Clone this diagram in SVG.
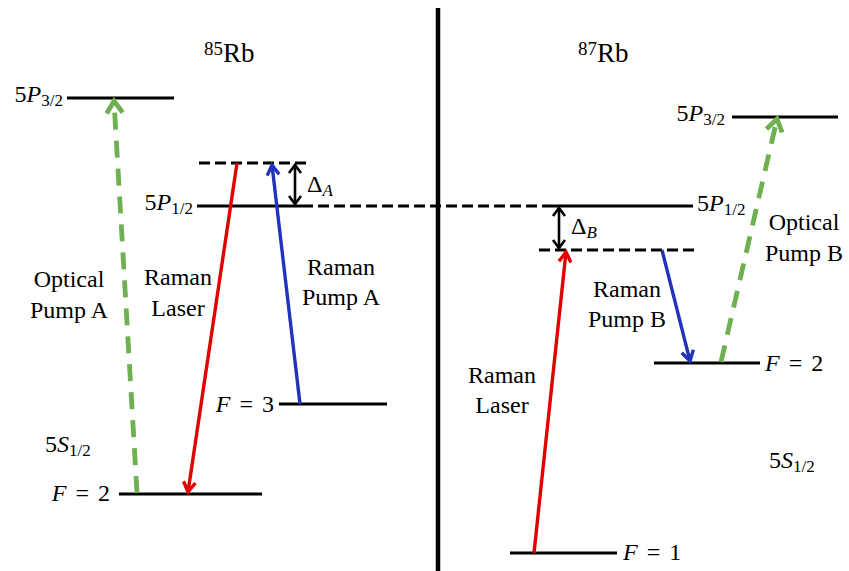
<svg xmlns="http://www.w3.org/2000/svg" width="849" height="571" viewBox="0 0 849 571">
<style>
.lv{stroke:#000;stroke-width:3.2;fill:none}
.vd{stroke:#000;stroke-width:3.2;fill:none;stroke-dasharray:11 5}
.m{font-family:"Liberation Serif","Times New Roman",serif;font-size:24px;fill:#000}
.i{font-style:italic}
.sub{font-size:17px}
.lb{font-family:"Liberation Serif","Times New Roman",serif;font-size:24px;fill:#000;text-anchor:middle}
.red{stroke:#e00000;stroke-width:3.4;fill:none}
.blue{stroke:#2233bb;stroke-width:3.4;fill:none}
.green{stroke:#6fb052;stroke-width:4.8;fill:none;stroke-dasharray:17 11}
.dl{stroke:#000;stroke-width:2.6;fill:none}
</style>
<defs>
<marker id="aR" markerUnits="userSpaceOnUse" viewBox="-12 -8 14 16" markerWidth="14" markerHeight="16" refX="0" refY="0" orient="auto" overflow="visible"><path d="M-10,-6 L0,0 L-10,6" fill="none" stroke="#e00000" stroke-width="3.4"/></marker>
<marker id="aB" markerUnits="userSpaceOnUse" viewBox="-12 -8 14 16" markerWidth="14" markerHeight="16" refX="0" refY="0" orient="auto" overflow="visible"><path d="M-10,-6 L0,0 L-10,6" fill="none" stroke="#2233bb" stroke-width="3.4"/></marker>
<marker id="aG" markerUnits="userSpaceOnUse" viewBox="-14 -10 16 20" markerWidth="16" markerHeight="20" refX="0" refY="0" orient="auto" overflow="visible"><path d="M-12,-8 L0,0 L-12,8" fill="none" stroke="#6fb052" stroke-width="4.8"/></marker>
<marker id="aK" markerUnits="userSpaceOnUse" viewBox="-10 -8 12 16" markerWidth="12" markerHeight="16" refX="0" refY="0" orient="auto-start-reverse" overflow="visible"><path d="M-8,-6 L0,0 L-8,6" fill="none" stroke="#000" stroke-width="2.6"/></marker>
</defs>
<rect width="849" height="571" fill="#fff"/>

<g id="divider"><line x1="438" y1="8" x2="438" y2="571" stroke="#000" stroke-width="4.5"/></g>

<g id="title85"><text x="204" y="62" font-family="Liberation Serif, Times New Roman, serif" font-size="27"><tspan font-size="19" dy="-7">85</tspan><tspan dy="7">Rb</tspan></text></g>
<g id="title87"><text x="578" y="62" font-family="Liberation Serif, Times New Roman, serif" font-size="27"><tspan font-size="19" dy="-7">87</tspan><tspan dy="7">Rb</tspan></text></g>

<!-- 85Rb levels -->
<g id="A_5P32"><line class="lv" x1="67" y1="98" x2="174" y2="98"/><text class="m" x="63" y="102" text-anchor="end">5<tspan class="i">P</tspan><tspan class="sub" dy="4">3/2</tspan></text></g>
<g id="A_virtual"><line class="vd" x1="199" y1="163" x2="307" y2="163"/></g>
<g id="A_5P12"><line class="lv" x1="197" y1="206" x2="302" y2="206"/><text class="m" x="193" y="210" text-anchor="end">5<tspan class="i">P</tspan><tspan class="sub" dy="4">1/2</tspan></text></g>
<g id="A_F3"><line class="lv" x1="279" y1="404" x2="387" y2="404"/><text class="m" x="274" y="412" text-anchor="end" word-spacing="3"><tspan class="i">F</tspan> = 3</text></g>
<g id="A_F2"><line class="lv" x1="119" y1="494" x2="262" y2="494"/><text class="m" x="110" y="501" text-anchor="end" word-spacing="3"><tspan class="i">F</tspan> = 2</text></g>
<g id="A_5S12"><text class="m" x="45" y="452">5<tspan class="i">S</tspan><tspan class="sub" dy="4">1/2</tspan></text></g>

<!-- 87Rb levels -->
<g id="B_5P32"><line class="lv" x1="732" y1="117" x2="838" y2="117"/><text class="m" x="725" y="121" text-anchor="end">5<tspan class="i">P</tspan><tspan class="sub" dy="4">3/2</tspan></text></g>
<g id="B_5P12"><line class="lv" x1="553" y1="206" x2="693" y2="206"/><text class="m" x="697" y="211">5<tspan class="i">P</tspan><tspan class="sub" dy="4">1/2</tspan></text></g>
<g id="B_virtual"><line class="vd" x1="539" y1="250" x2="694" y2="250"/></g>
<g id="B_F2"><line class="lv" x1="654" y1="363" x2="760" y2="363"/><text class="m" x="765" y="371" word-spacing="3"><tspan class="i">F</tspan> = 2</text></g>
<g id="B_F1"><line class="lv" x1="510" y1="553" x2="617" y2="553"/><text class="m" x="623" y="560" word-spacing="3"><tspan class="i">F</tspan> = 1</text></g>
<g id="B_5S12"><text class="m" x="769" y="468">5<tspan class="i">S</tspan><tspan class="sub" dy="4">1/2</tspan></text></g>

<!-- connectors -->
<g id="connectors">
<line class="vd" x1="302" y1="206" x2="553" y2="206"/>
<line class="green" x1="137" y1="493" x2="114" y2="101" marker-end="url(#aG)"/>
<line class="red" x1="237" y1="163" x2="188" y2="492" marker-end="url(#aR)"/>
<line class="blue" x1="300" y1="404" x2="272" y2="165" marker-end="url(#aB)"/>
<line class="dl" x1="295" y1="165" x2="295" y2="204" marker-start="url(#aK)" marker-end="url(#aK)"/>
<line class="red" x1="534" y1="553" x2="566" y2="252" marker-end="url(#aR)"/>
<line class="blue" x1="662" y1="250" x2="690" y2="361" marker-end="url(#aB)"/>
<line class="green" x1="721" y1="362" x2="777" y2="119" marker-end="url(#aG)"/>
<line class="dl" x1="559" y1="208" x2="559" y2="248" marker-start="url(#aK)" marker-end="url(#aK)"/>
</g>

<!-- labels -->
<g id="labels">
<text class="m" x="307" y="192">Δ<tspan class="i sub" dy="4">A</tspan></text>
<text class="m" x="571" y="234">Δ<tspan class="i sub" dy="4">B</tspan></text>
<text class="lb" x="69" y="287">Optical</text><text class="lb" x="69" y="318">Pump A</text>
<text class="lb" x="178" y="285">Raman</text><text class="lb" x="178" y="316">Laser</text>
<text class="lb" x="341" y="275">Raman</text><text class="lb" x="341" y="305">Pump A</text>
<text class="lb" x="627" y="297">Raman</text><text class="lb" x="627" y="327">Pump B</text>
<text class="lb" x="502" y="383">Raman</text><text class="lb" x="502" y="413">Laser</text>
<text class="lb" x="804" y="230">Optical</text><text class="lb" x="804" y="261">Pump B</text>
</g>
</svg>
